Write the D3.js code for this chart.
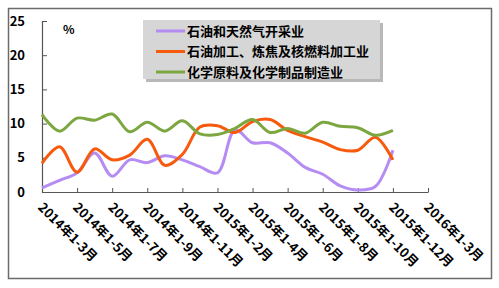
<!DOCTYPE html>
<html><head><meta charset="utf-8">
<script src="https://cdn.jsdelivr.net/npm/d3@7"></script>
<style>
body{margin:0;background:#fff;}
svg{display:block;}
text{font-family:"Noto Sans CJK SC","DejaVu Sans",sans-serif;font-weight:bold;fill:#000;}
</style></head><body>
<svg id="c" width="499" height="288"></svg>
<script>
const categories = [
 "2014年1-3月","2014年1-4月","2014年1-5月","2014年1-6月","2014年1-7月","2014年1-8月","2014年1-9月","2014年1-10月","2014年1-11月","2014年1-12月",
 "2015年1-2月","2015年1-3月","2015年1-4月","2015年1-5月","2015年1-6月","2015年1-7月","2015年1-8月","2015年1-9月","2015年1-10月","2015年1-11月","2015年1-12月",
 "2016年1-2月","2016年1-3月"];
const tickLabels = ["2014年1-3月","2014年1-5月","2014年1-7月","2014年1-9月","2014年1-11月","2015年1-2月","2015年1-4月","2015年1-6月","2015年1-8月","2015年1-10月","2015年1-12月","2016年1-3月"];
const seriesNames = ["石油和天然气开采业","石油加工、炼焦及核燃料加工业","化学原料及化学制品制造业"];
const oilGas   = [0.6,1.7,2.8,5.7,2.3,4.7,4.3,5.3,4.7,3.7,2.8,9.1,7.2,7.2,5.7,3.6,2.6,0.9,0.3,0.8,6.1];
const refining = [4.2,6.6,2.9,6.3,4.7,5.4,7.7,3.9,5.5,9.5,9.7,8.7,10.3,10.6,9.0,8.1,7.3,6.2,6.1,8.0,4.7];
const chemical = [11.3,8.9,10.8,10.5,11.4,8.8,10.2,8.9,10.4,8.5,8.4,9.3,10.6,8.7,9.3,8.6,10.2,9.6,9.4,8.3,9.0];
const yTicks = [0,5,10,15,20,25];
const colors = ["#b58cf2","#f75a0c","#7ba640"];

const svg = d3.select("#c");
// outer border
svg.append("rect").attr("x",8.5).attr("y",8.5).attr("width",483).attr("height",270)
  .attr("fill","#fff").attr("stroke","#6b6b6b").attr("stroke-width",1.5);

const x = d3.scalePoint().domain(categories).range([42,428]);
const y = d3.scaleLinear().domain([0,25]).range([192,21]);

// y axis
const ya = svg.append("g").attr("transform","translate(42,0)")
  .call(d3.axisLeft(y).tickValues(yTicks).tickSize(-5).tickPadding(17));
ya.select(".domain").attr("stroke","#555").attr("stroke-width",1.2);
ya.selectAll(".tick line").attr("stroke","#555");
ya.selectAll(".tick text").attr("font-size",13).attr("font-family","'DejaVu Sans',sans-serif");

// x axis
const xa = svg.append("g").attr("transform","translate(0,192)")
  .call(d3.axisBottom(x).tickValues(tickLabels).tickSize(-4).tickSizeOuter(0));
xa.select(".domain").attr("stroke","#555").attr("stroke-width",1.2);
xa.selectAll(".tick line").attr("stroke","#555");
xa.selectAll(".tick text").attr("font-size",13)
  .attr("text-anchor","start").attr("transform","translate(-2,13) rotate(45)")
  .attr("x",0).attr("y",0).attr("dy","0.35em");

// unit
svg.append("text").attr("x",63).attr("y",34).attr("font-size",12)
  .attr("font-family","'DejaVu Sans',sans-serif").text("%");

// lines
const line = d3.line().x((d,i)=>x(categories[i])).y(d=>y(d)).curve(d3.curveCatmullRom.alpha(0.5));
[oilGas,refining,chemical].forEach((s,k)=>{
  svg.append("path").attr("d",line(s)).attr("fill","none")
    .attr("stroke",colors[k]).attr("stroke-width",3).attr("stroke-linejoin","round");
});

// legend
const lg = svg.append("g");
lg.append("rect").attr("x",146).attr("y",23).attr("width",237).attr("height",59).attr("fill","#9a9a9a").attr("opacity",0.7);
lg.append("rect").attr("x",143).attr("y",20).attr("width",237).attr("height",59).attr("fill","#d6d6d6");
seriesNames.forEach((n,k)=>{
  const yy = 31 + k*20.5;
  lg.append("line").attr("x1",156).attr("x2",185).attr("y1",yy).attr("y2",yy)
    .attr("stroke",colors[k]).attr("stroke-width",3);
  lg.append("text").attr("x",187).attr("y",yy).attr("dy","0.36em").attr("font-size",13).text(n);
});
</script></body></html>
